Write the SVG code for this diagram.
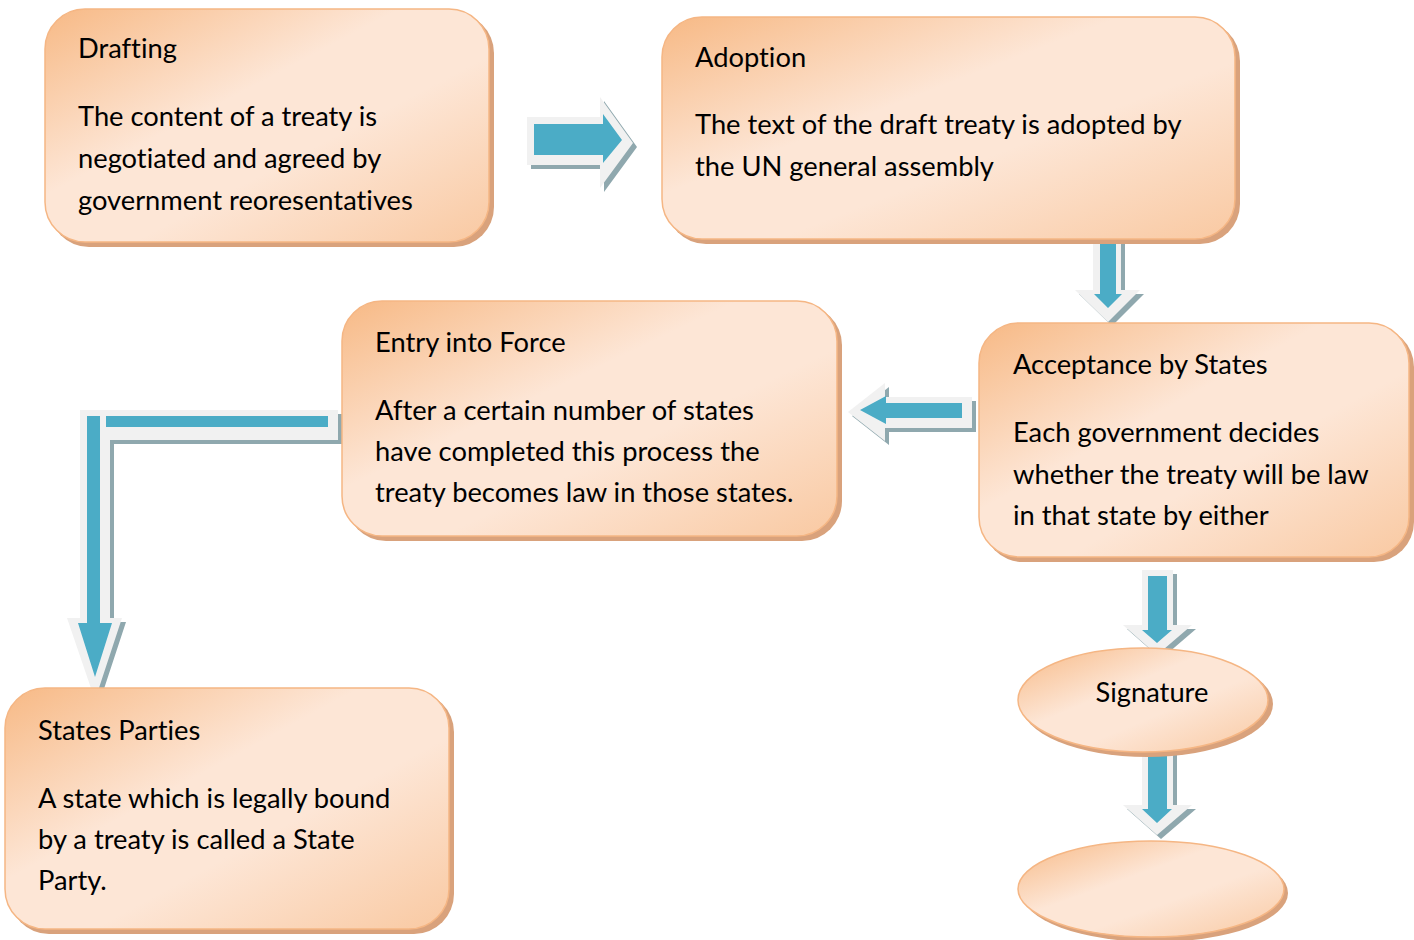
<svg xmlns="http://www.w3.org/2000/svg" width="1414" height="940" viewBox="0 0 1414 940">
  <defs>
    <linearGradient id="peach" x1="0" y1="0" x2="1" y2="1">
      <stop offset="0" stop-color="#f7b985"/>
      <stop offset="0.4" stop-color="#fde6d6"/>
      <stop offset="0.6" stop-color="#fde6d6"/>
      <stop offset="1" stop-color="#f9c9a2"/>
    </linearGradient>
    <style>
      .shadow { fill: #d9a27c; }
      .box { fill: url(#peach); stroke: #f5b684; stroke-width: 1.5; }
      .t { font-family: Lato, "Liberation Sans", sans-serif; font-size: 27.3px; fill: #000; font-variant-ligatures: none; font-feature-settings: "liga" 0, "clig" 0; }
      .arrow-shadow { fill: #8fa8ae; }
      .arrow-out { fill: #f1f1f1; }
      .arrow-in { fill: #4bacc6; }
    </style>
  </defs>

  <!-- connectors: outlined block arrows -->
  <g id="connectors">
    <!-- Drafting -> Adoption -->
    <g>
      <path class="arrow-shadow" d="M531,121 H604 V101 L637,147 L604,192 V169 H531 Z"/>
      <path class="arrow-out" d="M527,117 H600 V97 L633,143 L600,188 V165 H527 Z"/>
      <path class="arrow-in" d="M534,124 H603 V114 L622,140 L603,163 V155 H534 Z"/>
    </g>
    <!-- Adoption -> Acceptance -->
    <g>
      <path class="arrow-shadow" d="M1097,240 H1125 V294 H1144 L1112,326 L1079,294 H1097 Z"/>
      <path class="arrow-out" d="M1093,236 H1121 V290 H1140 L1108,322 L1075,290 H1093 Z"/>
      <path class="arrow-in" d="M1100,242 H1116 V294 H1122 L1108,308 L1094,294 H1100 Z"/>
    </g>
    <!-- Acceptance -> Entry into Force -->
    <g>
      <path class="arrow-shadow" d="M976,401 H889 V387 L852,416 L889,445 V432 H976 Z"/>
      <path class="arrow-out" d="M972,397 H885 V383 L848,412 L885,441 V428 H972 Z"/>
      <path class="arrow-in" d="M962,403 H886 V396 L860,410 L886,424 V418 H962 Z"/>
    </g>
    <!-- Entry into Force -> States Parties -->
    <g>
      <path class="arrow-shadow" d="M342,414 V444 H114 V622 H126 L99,704 L71,622 H84 V414 Z"/>
      <path class="arrow-out" d="M338,410 V440 H110 V618 H122 L95,700 L67,618 H80 V410 Z"/>
      <path class="arrow-in" d="M106,416 H328 V427 H106 Z"/>
      <path class="arrow-in" d="M87,416 H100 V623 H112 L95,677 L78,623 H87 Z"/>
    </g>
    <!-- Acceptance -> Signature -->
    <g>
      <path class="arrow-shadow" d="M1146,574 H1177 V629 H1196 L1161,659 L1127,629 H1146 Z"/>
      <path class="arrow-out" d="M1142,570 H1173 V625 H1192 L1157,655 L1123,625 H1142 Z"/>
      <path class="arrow-in" d="M1148,576 H1167 V630 H1172 L1157,643 L1142,630 H1148 Z"/>
    </g>
    <!-- Signature -> next -->
    <g>
      <path class="arrow-shadow" d="M1146,749 H1177 V809 H1196 L1161,839 L1127,809 H1146 Z"/>
      <path class="arrow-out" d="M1142,745 H1173 V805 H1192 L1157,835 L1123,805 H1142 Z"/>
      <path class="arrow-in" d="M1148,753 H1167 V809 H1172 L1157,823 L1142,809 H1148 Z"/>
    </g>
  </g>

  <g id="drafting">
    <rect class="shadow" x="49" y="13" width="445" height="234" rx="40"/>
    <rect class="box" x="45" y="9" width="444" height="233" rx="40"/>
    <text class="t" x="78" y="58">Drafting</text>
    <text class="t" x="78" y="126">The content of a treaty is</text>
    <text class="t" x="78" y="168">negotiated and agreed by</text>
    <text class="t" x="78" y="210">government reoresentatives</text>
  </g>

  <g id="adoption">
    <rect class="shadow" x="666" y="21" width="574" height="223" rx="40"/>
    <rect class="box" x="662" y="17" width="573" height="222" rx="40"/>
    <text class="t" x="695" y="67">Adoption</text>
    <text class="t" x="695" y="134">The text of the draft treaty is adopted by</text>
    <text class="t" x="695" y="176">the UN general assembly</text>
  </g>

  <g id="acceptance">
    <rect class="shadow" x="983" y="327" width="431" height="235" rx="40"/>
    <rect class="box" x="979" y="323" width="430" height="234" rx="40"/>
    <text class="t" x="1013" y="374">Acceptance by States</text>
    <text class="t" x="1013" y="442">Each government decides</text>
    <text class="t" x="1013" y="484">whether the treaty will be law</text>
    <text class="t" x="1013" y="525">in that state by either</text>
  </g>

  <g id="entry">
    <rect class="shadow" x="346" y="305" width="496" height="236" rx="40"/>
    <rect class="box" x="342" y="301" width="495" height="235" rx="40"/>
    <text class="t" x="375" y="352">Entry into Force</text>
    <text class="t" x="375" y="420">After a certain number of states</text>
    <text class="t" x="375" y="461">have completed this process the</text>
    <text class="t" x="375" y="502">treaty becomes law in those states.</text>
  </g>

  <g id="states-parties">
    <rect class="shadow" x="9" y="692" width="445" height="242" rx="40"/>
    <rect class="box" x="5" y="688" width="444" height="241" rx="40"/>
    <text class="t" x="38" y="740">States Parties</text>
    <text class="t" x="38" y="808">A state which is legally bound</text>
    <text class="t" x="38" y="849">by a treaty is called a State</text>
    <text class="t" x="38" y="890">Party.</text>
  </g>

  <g id="signature">
    <ellipse class="shadow" cx="1147" cy="704" rx="126" ry="53"/>
    <ellipse class="box" cx="1143" cy="700" rx="125" ry="52"/>
    <text class="t" x="1152" y="702" text-anchor="middle">Signature</text>
  </g>

  <g id="next-step">
    <ellipse class="shadow" cx="1155" cy="893" rx="133" ry="49"/>
    <ellipse class="box" cx="1151" cy="889" rx="133" ry="48"/>
  </g>
</svg>
